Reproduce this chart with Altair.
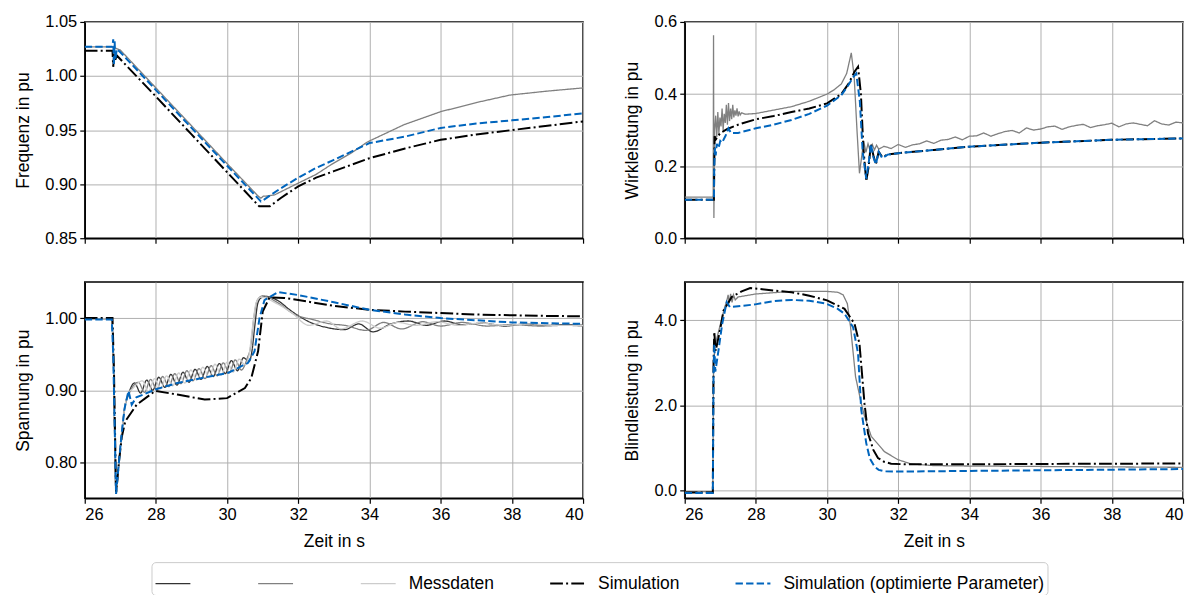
import altair as alt
import pandas as pd

SERIES = ["Messdaten 1", "Messdaten 2", "Messdaten", "Simulation", "Simulation (optimierte Parameter)"]
COLORS = ["#333333", "#808080", "#cccccc", "#000000", "#0065BD"]
DASHES = [[1, 0], [1, 0], [1, 0], [12.8, 3.2, 2, 3.2], [7.4, 3.2]]
WIDTHS = [1.3, 1.3, 1.3, 2.0, 2.0]
XTICKS = [26, 28, 30, 32, 34, 36, 38, 40]

# ---------------- Frequenz ----------------
f_gray_t = [26.0, 26.80, 26.84, 27.0, 28.0, 29.0, 30.0, 30.87, 30.95, 31.02, 31.1, 31.33, 32.0, 32.5,
            32.92, 33.5, 33.94, 34.97, 36.0, 37.02, 37.95, 38.98, 40.0]
f_gray_v = [1.027, 1.027, 1.026, 1.024, 0.989, 0.954, 0.919, 0.889, 0.887, 0.889, 0.889, 0.890, 0.901, 0.909,
            0.918, 0.929, 0.939, 0.955, 0.967, 0.9756, 0.9824, 0.986, 0.989]
f_black_t = [26.0, 26.78, 26.80, 26.83, 26.86, 26.9, 28.0, 29.0, 30.0, 30.9, 31.2, 31.5, 32.0, 32.5, 33.0,
             34.0, 35.0, 36.0, 37.0, 38.0, 39.0, 40.0]
f_black_v = [1.0233, 1.0233, 1.0085, 1.021, 1.015, 1.019, 0.981, 0.946, 0.911, 0.8795, 0.8795, 0.887, 0.898,
             0.906, 0.912, 0.924, 0.933, 0.941, 0.946, 0.950, 0.954, 0.958]
f_blue_t = [26.0, 26.78, 26.80, 26.82, 26.84, 26.86, 26.9, 27.0, 28.0, 29.0, 30.0, 30.95, 31.05, 31.5, 32.0,
            32.5, 33.0, 34.0, 35.0, 36.0, 37.0, 38.0, 39.0, 40.0]
f_blue_v = [1.027, 1.027, 1.034, 1.010, 1.032, 1.015, 1.025, 1.022, 0.987, 0.952, 0.917, 0.884, 0.886, 0.896,
            0.906, 0.915, 0.9225, 0.938, 0.944, 0.952, 0.956, 0.959, 0.962, 0.9655]

# ---------------- Wirkleistung ----------------
p_gray_t = [26.0, 26.80, 26.81, 26.82, 26.84, 26.87, 26.90, 26.93, 26.96, 26.99, 27.02, 27.05, 27.08, 27.11,
            27.14, 27.17, 27.20, 27.23, 27.26, 27.29, 27.32, 27.35, 27.38, 27.41, 27.44, 27.47, 27.50, 27.53,
            27.56, 27.60, 27.70, 28.0, 29.0, 29.5, 30.0, 30.2, 30.4, 30.55, 30.68, 30.76, 30.84, 30.91, 30.97,
            31.03, 31.09, 31.15, 31.21, 31.27, 31.33, 31.39, 31.45,
            31.6, 31.8, 32.0, 32.2, 32.4, 32.6, 32.8, 33.0, 33.2, 33.4, 33.6, 33.8, 34.0, 34.2, 34.4, 34.6,
            34.8, 35.0, 35.2, 35.4, 35.6, 35.8, 36.0, 36.2, 36.4, 36.6, 36.8, 37.0, 37.2, 37.4, 37.6, 37.8,
            38.0, 38.2, 38.4, 38.6, 38.8, 39.0, 39.2, 39.4, 39.6, 39.8, 40.0]
p_gray_v = [0.114, 0.114, 0.563, 0.056, 0.30, 0.34, 0.28, 0.35, 0.29, 0.335, 0.31, 0.36, 0.30, 0.345,
            0.32, 0.37, 0.315, 0.375, 0.325, 0.36, 0.33, 0.37, 0.335, 0.355, 0.34, 0.36, 0.338, 0.352,
            0.342, 0.348, 0.344, 0.346, 0.365, 0.38, 0.40, 0.412, 0.428, 0.457, 0.514, 0.45, 0.30, 0.18, 0.225,
            0.27, 0.238, 0.262, 0.242, 0.26, 0.245, 0.258, 0.247,
            0.255, 0.249, 0.260, 0.252, 0.259, 0.262, 0.270, 0.263, 0.272, 0.274, 0.281, 0.273, 0.283, 0.284,
            0.292, 0.283, 0.290, 0.296, 0.299, 0.292, 0.306, 0.300, 0.303, 0.309, 0.311, 0.302, 0.309, 0.313,
            0.316, 0.307, 0.312, 0.315, 0.319, 0.309, 0.317, 0.320, 0.316, 0.312, 0.326, 0.317, 0.314, 0.322,
            0.320]
p_black_t = [26.0, 26.82, 26.84, 26.88, 27.0, 27.2, 27.5, 28.0, 28.5, 29.0, 29.5, 30.0, 30.4, 30.6, 30.77,
             30.87, 30.95, 31.02, 31.10, 31.17, 31.23, 31.30, 31.37, 31.45, 31.55, 31.7, 32.0, 33.0, 34.0,
             36.0, 38.0, 40.0]
p_black_v = [0.107, 0.107, 0.283, 0.275, 0.292, 0.303, 0.315, 0.330, 0.339, 0.350, 0.360, 0.374, 0.400,
             0.428, 0.462, 0.476, 0.40, 0.25, 0.158, 0.20, 0.262, 0.23, 0.205, 0.24, 0.225, 0.232, 0.236,
             0.245, 0.254, 0.265, 0.273, 0.277]
p_blue_t = [26.0, 26.82, 26.83, 26.85, 26.87, 26.9, 26.95, 27.0, 27.05, 27.15, 27.23, 27.3, 27.5, 28.0, 28.5,
            29.0, 29.5, 30.0, 30.4, 30.6, 30.72, 30.82, 30.92, 31.0, 31.10, 31.17, 31.23, 31.30, 31.37, 31.45,
            31.55, 31.7, 32.0, 33.0, 34.0, 36.0, 38.0, 40.0]
p_blue_v = [0.107, 0.107, 0.20, 0.25, 0.23, 0.262, 0.25, 0.27, 0.265, 0.285, 0.305, 0.292, 0.292, 0.305,
            0.315, 0.328, 0.345, 0.368, 0.397, 0.425, 0.445, 0.457, 0.38, 0.24, 0.165, 0.21, 0.262, 0.225,
            0.205, 0.24, 0.222, 0.232, 0.236, 0.245, 0.254, 0.265, 0.273, 0.277]

# ---------------- Spannung ----------------
u_dark_t = [26.0, 26.76, 26.80, 26.88, 26.96, 27.04, 27.12, 27.23, 27.40, 27.57, 27.74, 27.91, 28.08, 28.25,
            28.42, 28.59, 28.76, 28.93, 29.10, 29.27, 29.44, 29.61, 29.78, 29.95, 30.12, 30.29, 30.46, 30.62,
            30.70, 30.78, 30.86, 30.95, 31.1, 31.4, 31.8, 32.3, 32.8, 33.3, 33.7, 34.1, 34.6, 35.1, 35.6,
            36.1, 36.6, 37.2, 37.8, 38.4, 39.0, 39.5, 40.0]
u_dark_v = [0.999, 0.999, 0.95, 0.757, 0.80, 0.841, 0.875, 0.895, 0.910, 0.896, 0.914, 0.900, 0.918, 0.904,
            0.922, 0.907, 0.925, 0.911, 0.929, 0.915, 0.933, 0.919, 0.937, 0.923, 0.941, 0.927, 0.945, 0.940,
            0.955, 0.99, 1.02, 1.028, 1.030, 1.025, 1.010, 0.995, 0.987, 0.984, 0.992, 0.981, 0.992, 0.996,
            0.990, 0.996, 0.991, 0.993, 0.989, 0.992, 0.990, 0.991, 0.990]
u_mid_t = [26.0, 26.76, 26.80, 26.88, 26.96, 27.04, 27.12, 27.23, 27.51, 27.68, 27.85, 28.02, 28.19, 28.36,
           28.53, 28.70, 28.87, 29.04, 29.21, 29.38, 29.55, 29.72, 29.89, 30.06, 30.23, 30.40, 30.57, 30.66,
           30.75, 30.85, 31.0, 31.4, 31.9, 32.4, 32.9, 33.3, 33.9, 34.4, 34.9, 35.5, 36.0, 36.6, 37.3, 38.0,
           38.8, 39.5, 40.0]
u_mid_v = [0.999, 0.999, 0.95, 0.757, 0.80, 0.841, 0.875, 0.893, 0.911, 0.897, 0.915, 0.901, 0.919, 0.905,
           0.923, 0.909, 0.927, 0.913, 0.930, 0.916, 0.934, 0.920, 0.938, 0.924, 0.942, 0.928, 0.945, 0.96,
           1.00, 1.025, 1.031, 1.022, 1.005, 0.998, 0.992, 0.990, 0.983, 0.994, 0.985, 0.995, 0.989, 0.994,
           0.989, 0.991, 0.989, 0.990, 0.989]
u_light_t = [26.0, 26.76, 26.80, 26.88, 26.96, 27.04, 27.12, 27.23, 27.30, 27.62, 27.79, 27.96, 28.13, 28.30,
             28.47, 28.64, 28.81, 28.98, 29.15, 29.32, 29.49, 29.66, 29.83, 30.00, 30.17, 30.34, 30.51, 30.62,
             30.72, 30.82, 30.95, 31.4, 31.8, 32.3, 32.8, 33.2, 33.8, 34.3, 34.8, 35.3, 35.9, 36.5, 37.1,
             37.8, 38.5, 39.2, 40.0]
u_light_v = [0.999, 0.999, 0.95, 0.757, 0.80, 0.841, 0.875, 0.897, 0.900, 0.913, 0.898, 0.916, 0.902, 0.920,
             0.906, 0.924, 0.910, 0.928, 0.914, 0.932, 0.918, 0.936, 0.921, 0.939, 0.925, 0.943, 0.935, 0.95,
             0.99, 1.022, 1.029, 1.020, 1.008, 0.990, 0.996, 0.985, 0.996, 0.986, 0.994, 0.990, 0.995, 0.990,
             0.993, 0.990, 0.992, 0.990, 0.990]
u_black_t = [26.0, 26.78, 26.82, 26.88, 26.96, 27.04, 27.14, 27.46, 27.98, 28.6, 29.37, 30.0, 30.5, 30.68,
             30.87, 31.0, 31.19, 31.6, 32.0, 33.0, 34.0, 35.0, 36.0, 37.0, 38.0, 39.0, 40.0]
u_black_v = [1.0, 1.0, 0.93, 0.759, 0.80, 0.835, 0.857, 0.880, 0.899, 0.894, 0.887, 0.889, 0.903, 0.917,
             0.954, 1.009, 1.0286, 1.028, 1.025, 1.017, 1.0115, 1.009, 1.007, 1.005, 1.004, 1.003, 1.0025]
u_blue_t = [26.0, 26.76, 26.80, 26.88, 26.96, 27.04, 27.12, 27.23, 27.32, 27.45, 27.98, 28.6, 29.3, 30.03,
            30.59, 30.77, 30.91, 31.05, 31.43, 32.0, 33.0, 34.0, 35.0, 36.0, 37.0, 38.0, 39.0, 40.0]
u_blue_v = [0.998, 0.998, 0.95, 0.756, 0.80, 0.841, 0.875, 0.899, 0.880, 0.890, 0.901, 0.910, 0.917, 0.924,
            0.938, 0.954, 1.0, 1.025, 1.036, 1.032, 1.022, 1.0115, 1.005, 1.0, 0.997, 0.994, 0.993, 0.992]

# ---------------- Blindleistung ----------------
q_gray_t = [26.0, 26.79, 26.81, 26.85, 27.0, 27.12, 27.18, 27.22, 27.25, 27.29, 27.33, 27.37, 27.42, 27.5,
            28.0, 29.0, 30.0, 30.3, 30.45, 30.57, 30.66, 30.80, 30.96, 31.05, 31.24, 31.61, 31.99, 32.36,
            33.0, 34.0, 36.0, 38.0, 40.0]
q_gray_v = [-0.03, -0.03, 2.9, 3.4, 3.9, 4.3, 4.45, 4.60, 4.40, 4.62, 4.42, 4.60, 4.48, 4.55,
            4.62, 4.68, 4.68, 4.66, 4.60, 4.39, 3.84, 2.67, 2.05, 1.75, 1.27, 0.91, 0.72, 0.62,
            0.58, 0.57, 0.56, 0.55, 0.54]
q_black_t = [26.0, 26.79, 26.81, 26.83, 26.87, 27.0, 27.09, 27.32, 27.6, 27.84, 28.3, 29.0, 29.5, 30.0,
             30.49, 30.77, 30.91, 31.05, 31.15, 31.3, 31.43, 31.6, 31.8, 32.2, 34.0, 36.0, 38.0, 40.0]
q_black_v = [-0.05, -0.05, 3.0, 3.73, 3.28, 3.8, 4.23, 4.55, 4.68, 4.76, 4.72, 4.66, 4.58, 4.47,
             4.27, 3.92, 3.45, 2.05, 1.34, 0.95, 0.76, 0.67, 0.625, 0.61, 0.61, 0.62, 0.625, 0.63]
q_blue_t = [26.0, 26.79, 26.81, 26.83, 26.86, 26.95, 27.05, 27.18, 27.27, 27.5, 27.98, 28.5, 29.0, 29.5,
            29.98, 30.3, 30.49, 30.73, 30.87, 30.96, 31.10, 31.2, 31.33, 31.45, 31.61, 32.0, 34.0, 36.0,
            38.0, 40.0]
q_blue_v = [-0.064, -0.064, 2.8, 3.45, 2.79, 3.3, 3.9, 4.43, 4.31, 4.33, 4.375, 4.45, 4.48, 4.46,
            4.39, 4.27, 4.155, 3.84, 3.22, 1.89, 1.11, 0.75, 0.56, 0.48, 0.445, 0.44, 0.455, 0.47,
            0.485, 0.50]


def frame(name, t, v):
    return pd.DataFrame({"t": t, "v": v, "s": name})


LEG = dict(title=None,
           labelExpr="datum.label == 'Messdaten 1' || datum.label == 'Messdaten 2' ? '' : datum.label")


def layer_chart(df, ytitle, ydomain, yvalues, yfmt, bottom, interp="linear"):
    x = alt.X("t:Q", scale=alt.Scale(domain=[26, 40], nice=False, zero=False),
              axis=alt.Axis(values=XTICKS, labels=bottom, title="Zeit in s" if bottom else None))
    y = alt.Y("v:Q", scale=alt.Scale(domain=ydomain, nice=False, zero=False),
              axis=alt.Axis(values=yvalues, format=yfmt, title=ytitle))
    return alt.Chart(df).mark_line(clip=True, interpolate=interp).encode(
        x=x, y=y,
        color=alt.Color("s:N", scale=alt.Scale(domain=SERIES, range=COLORS), legend=alt.Legend(**LEG)),
        strokeDash=alt.StrokeDash("s:N", scale=alt.Scale(domain=SERIES, range=DASHES), legend=alt.Legend(**LEG)),
        strokeWidth=alt.StrokeWidth("s:N", scale=alt.Scale(type="ordinal", domain=SERIES, range=WIDTHS),
                                    legend=alt.Legend(**LEG)),
    )


def panel(grays, black, blue, ytitle, ydomain, yvalues, yfmt, bottom, gray_interp="linear"):
    g = layer_chart(pd.concat(grays), ytitle, ydomain, yvalues, yfmt, bottom, gray_interp)
    b = layer_chart(black, ytitle, ydomain, yvalues, yfmt, bottom)
    bl = layer_chart(blue, ytitle, ydomain, yvalues, yfmt, bottom)
    return alt.layer(g, b, bl).properties(width=500, height=217)


p1 = panel([frame("Messdaten 2", f_gray_t, f_gray_v)],
           frame("Simulation", f_black_t, f_black_v),
           frame("Simulation (optimierte Parameter)", f_blue_t, f_blue_v),
           "Frequenz in pu", [0.85, 1.05], [0.85, 0.90, 0.95, 1.00, 1.05], ".2f", False)
p2 = panel([frame("Messdaten 2", p_gray_t, p_gray_v)],
           frame("Simulation", p_black_t, p_black_v),
           frame("Simulation (optimierte Parameter)", p_blue_t, p_blue_v),
           "Wirkleistung in pu", [0.0, 0.6], [0.0, 0.2, 0.4, 0.6], ".1f", False)
p3 = panel([frame("Messdaten 1", u_dark_t, u_dark_v), frame("Messdaten 2", u_mid_t, u_mid_v),
            frame("Messdaten", u_light_t, u_light_v)],
           frame("Simulation", u_black_t, u_black_v),
           frame("Simulation (optimierte Parameter)", u_blue_t, u_blue_v),
           "Spannung in pu", [0.75, 1.05], [0.80, 0.90, 1.00], ".2f", True, "monotone")
p4 = panel([frame("Messdaten 2", q_gray_t, q_gray_v)],
           frame("Simulation", q_black_t, q_black_v),
           frame("Simulation (optimierte Parameter)", q_blue_t, q_blue_v),
           "Blindleistung in pu", [-0.19, 4.9], [0.0, 2.0, 4.0], ".1f", True)

chart = alt.concat(p1, p2, p3, p4, columns=2, align="each",
                   spacing={"row": 33, "column": 38}).properties(
    padding={"left": 6, "top": 4, "right": 5, "bottom": 0}
).configure(font="Liberation Sans").configure_axis(
    labelFontSize=16.5, titleFontSize=17.5, labelColor="black", titleColor="black",
    titleFontWeight="normal", tickColor="black", tickSize=5, tickWidth=1.2,
    domainColor="black", domainWidth=1.5, gridColor="#b0b0b0", gridWidth=1, labelPadding=3,
).configure_axisY(titlePadding=12).configure_axisX(titlePadding=10).configure_view(
    stroke="black", strokeWidth=1.5
).configure_legend(
    orient="none", legendX=67, legendY=542, direction="horizontal", symbolType="stroke",
    symbolSize=1225, labelFontSize=17.5, labelOffset=12, columnPadding=52, strokeColor="#cccccc",
    cornerRadius=4, padding=3, fillColor="white", labelLimit=400, labelColor="black",
)

chart.save("out.html", embed_options={"renderer": "svg", "actions": False})
